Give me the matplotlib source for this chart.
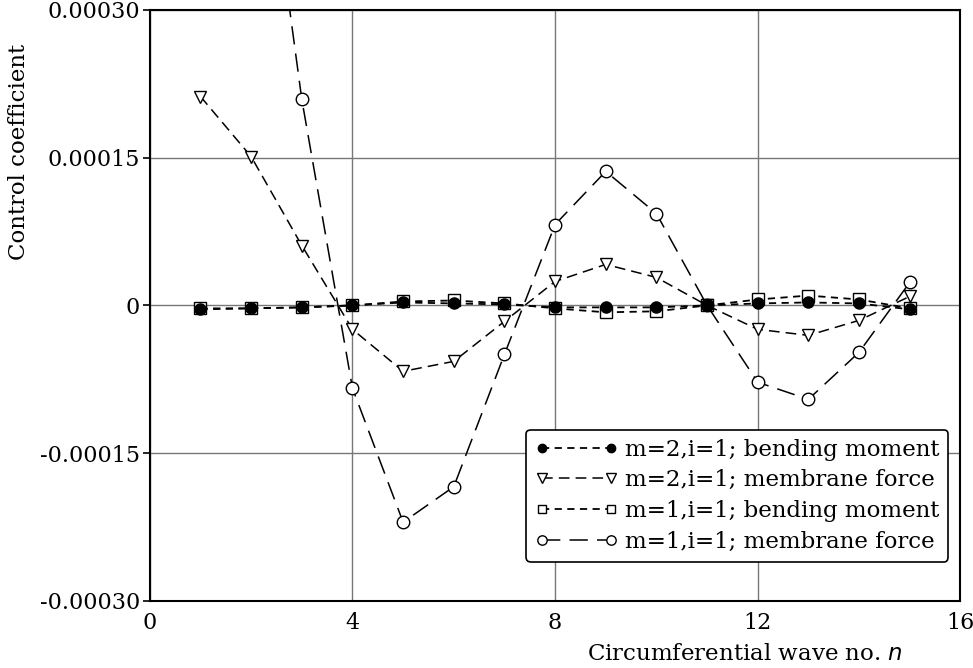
import matplotlib.pyplot as plt

plt.rcParams['font.family'] = ['DejaVu Serif']

n_all = list(range(1, 16))
n_m1_membrane = list(range(2, 16))

# m=2, i=1 bending moment (filled circles)
m2_bending = [-0.000004, -0.000003, -0.000002, 0.0, 0.000003, 0.000002, 0.000001,
              -0.000002, -0.000002, -0.000002, 0.0, 0.000002, 0.000003, 0.000002, -0.000004]
# m=2, i=1 membrane force (triangles)
m2_membrane = [0.000212, 0.000151, 0.0000608, -0.0000243, -0.0000669, -0.0000568, -0.0000162,
               0.0000243, 0.0000416, 0.0000284, 0.0, -0.0000243, -0.0000304, -0.0000152, 0.0000091]
# m=1, i=1 bending moment (squares)
m1_bending = [-0.000003, -0.000003, -0.000002, 0.0, 0.000004, 0.000005, 0.000002,
              -0.000003, -0.000007, -0.000006, 0.0, 0.000006, 0.000010, 0.000006, -0.000003]
# m=1, i=1 membrane force (open circles), n=2 is off the chart
m1_membrane = [0.00059, 0.000209, -0.0000841, -0.00022, -0.000184, -0.0000497, 0.0000821,
               0.000136, 0.0000932, 0.0, -0.000078, -0.0000953, -0.0000476, 0.0000233]

yticks = [0.0003, 0.00015, 0, -0.00015, -0.0003]
ytick_labels = ['0.00030', '0.00015', '0', '-0.00015', '-0.00030']
xticks = [0, 4, 8, 12, 16]

fig = plt.figure(figsize=(9.73, 6.68), dpi=100)
ax = fig.add_axes([0.154, 0.1003, 0.833, 0.885])

ax.plot(n_all, m2_bending, color='black', marker='o', markersize=8, lw=1.3,
        dashes=(4, 3), label='m=2,i=1; bending moment', zorder=4)
ax.plot(n_all, m2_membrane, color='black', marker='v', markersize=9, mfc='white', lw=1.1,
        dashes=(7, 4), label='m=2,i=1; membrane force', zorder=3)
ax.plot(n_all, m1_bending, color='black', marker='s', markersize=8, mfc='white', lw=1.3,
        dashes=(4, 3), label='m=1,i=1; bending moment', zorder=3)
ax.plot(n_m1_membrane, m1_membrane, color='black', marker='o', markersize=9, mfc='white', lw=1.1,
        dashes=(12, 6), label='m=1,i=1; membrane force', zorder=3)

ax.set_xlim(0, 16)
ax.set_ylim(-0.0003, 0.0003)
ax.set_xticks(xticks)
ax.set_yticks(yticks)
ax.set_yticklabels(ytick_labels)
ax.tick_params(axis='y', length=5, width=1.2, direction='out', labelsize=16, pad=2)
ax.tick_params(axis='x', length=0, labelsize=16, pad=8)
ax.grid(True, color='#777777', lw=1.0)
for s in ax.spines.values():
    s.set_linewidth(1.5)

ax.set_ylabel('Control coefficient', fontsize=16.5)
ax.yaxis.set_label_coords(-0.148, 0.76)
fig.text(0.766, 0.012, 'Circumferential wave no. $n$', fontsize=16.5, ha='center')

leg = ax.legend(loc='lower right', bbox_to_anchor=(0.985, 0.066), fontsize=16.5,
                fancybox=True, framealpha=1, edgecolor='black', handlelength=3.6,
                numpoints=2, markerscale=0.75, handletextpad=0.3, borderpad=0.4,
                labelspacing=0.38, borderaxespad=0)
leg.get_frame().set_linewidth(1.2)

plt.savefig('out.png')
